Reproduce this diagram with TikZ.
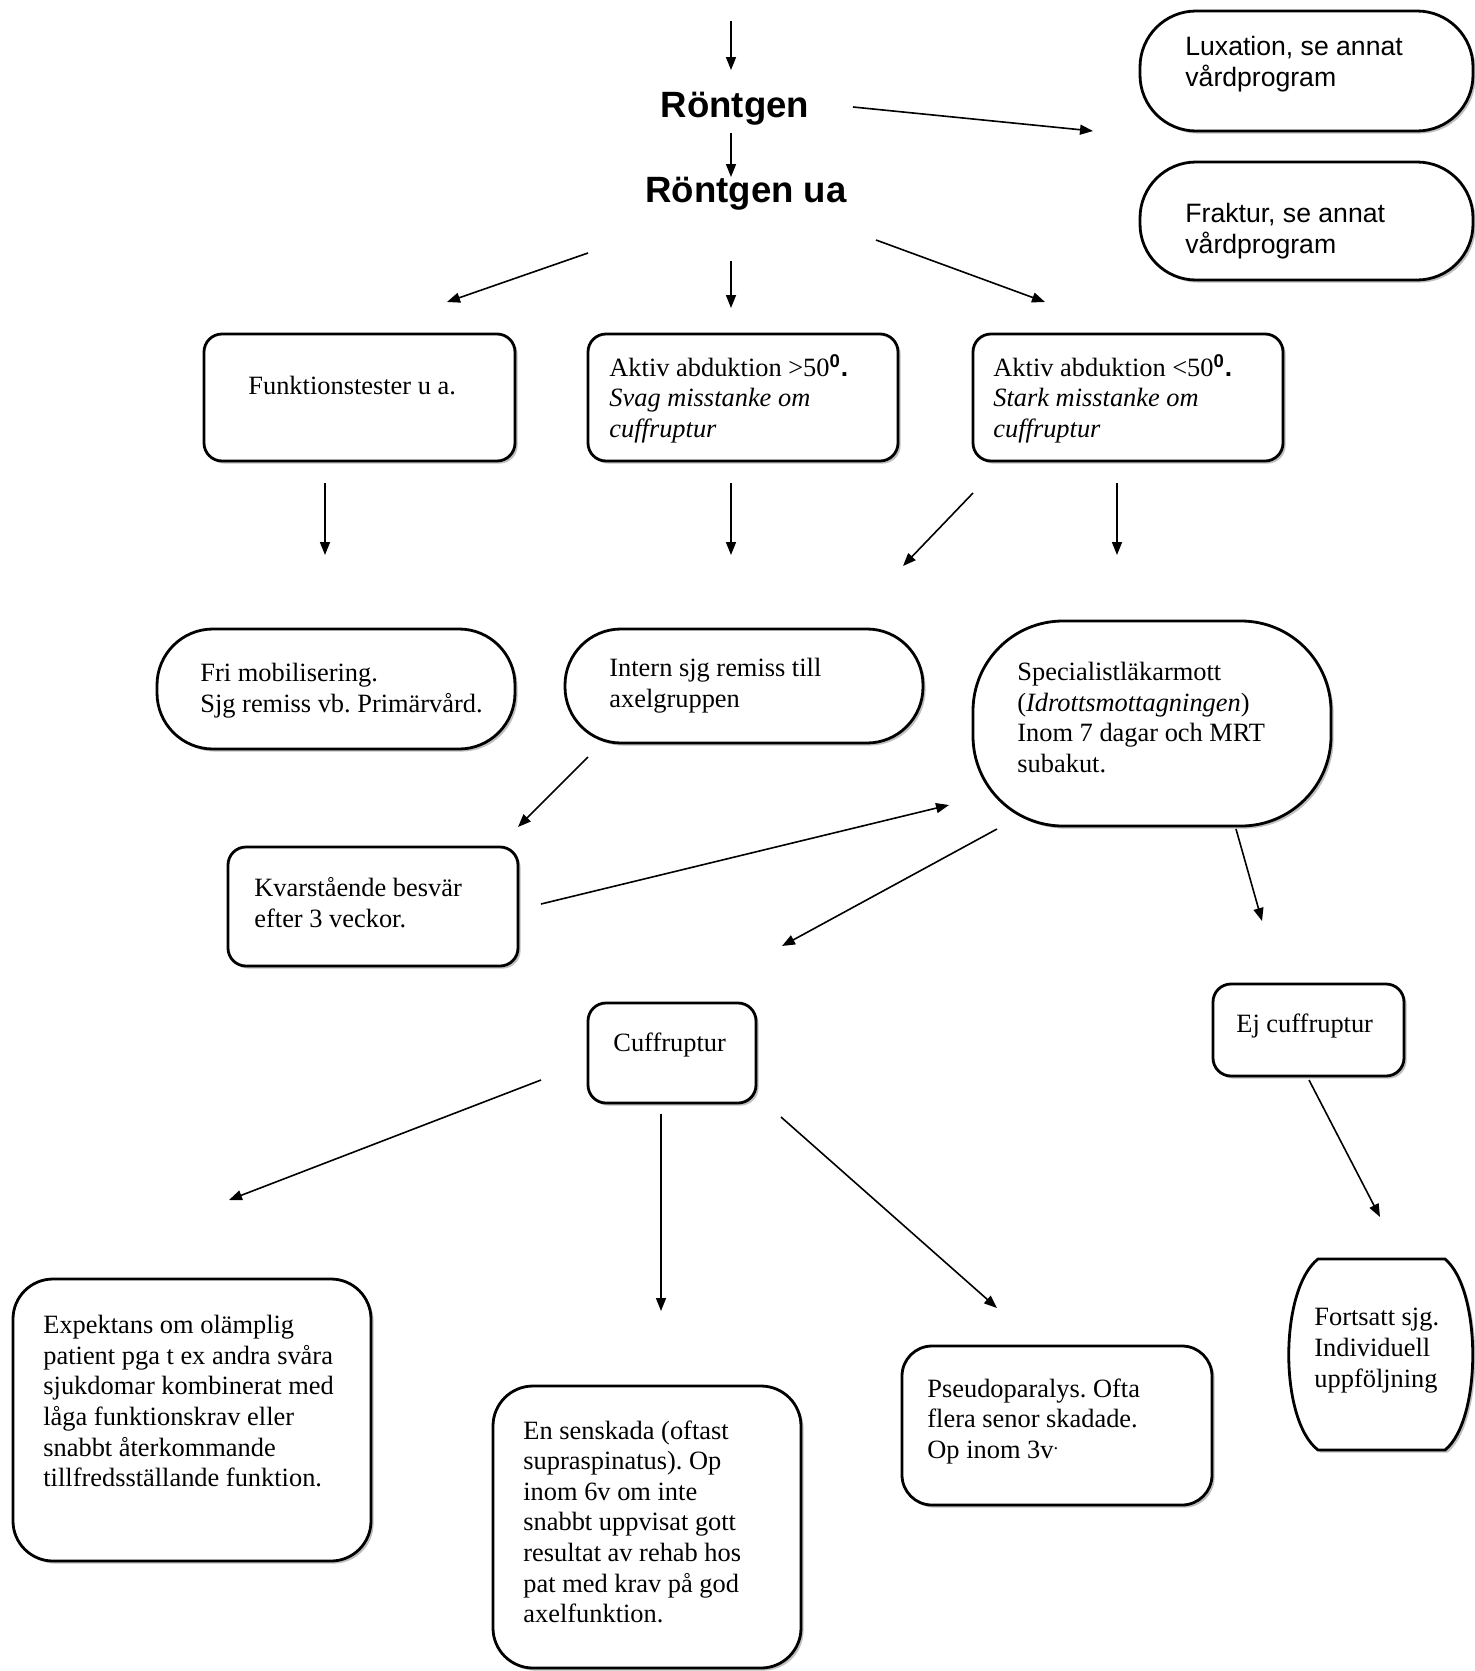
\documentclass[tikz,border=0pt]{standalone}
\usepackage{fontspec}
\setmainfont{Liberation Serif}
\setsansfont{Liberation Sans}
\usetikzlibrary{arrows.meta,fit,shadows}
\begin{document}
\frenchspacing
\begin{tikzpicture}[x=0.5pt,y=-0.5pt,
  shad/.style={drop shadow={shadow xshift=1.3pt,shadow yshift=-1.3pt,fill=black!25,opacity=1}},
  box/.style={draw,line width=1.4pt,rounded corners=9pt,fill=white,inner sep=0pt,shad},
  stad/.style={box,rounded corners=28pt},
  bigrnd/.style={box,rounded corners=45pt},
  txt/.style={anchor=north west,inner sep=0pt,align=left,font=\fontsize{13.2}{15.3}\selectfont},
  stxt/.style={txt,font=\fontsize{13.3}{15.3}\selectfont\sffamily},
  head/.style={inner sep=0pt,font=\fontsize{18.3}{22}\selectfont\sffamily\bfseries},
  arr/.style={-{Triangle[length=6.5pt,width=5pt]},line width=0.8pt}
]
\useasboundingbox (0,0) rectangle (1475,1671);
\newcommand\degr{\textsuperscript{\sffamily\bfseries 0}{\sffamily\bfseries .}}

% headings
\node[head] (ront) at (735,109) {Röntgen};
\node[head] (rontua) at (746,194) {Röntgen ua};

% boxes
\node[stad,fit={(1140,11) (1473,131)}] (lux) {};
\node[stxt] (luxT) at (1185,36) {Luxation, se annat\\vårdprogram};
\node[stad,fit={(1140,162) (1473,280)}] (frak) {};
\node[stxt] (frakT) at (1185,203) {Fraktur, se annat\\vårdprogram};

\node[box,fit={(204,334) (515,461)}] (fun) {};
\node[txt] (funT) at (248,376) {Funktionstester u a.};
\node[box,fit={(588,334) (898,461)}] (svag) {};
\node[txt] (svagT) at (609,354) {Aktiv abduktion >50\degr\\\textit{Svag misstanke om}\\\textit{cuffruptur}};
\node[box,fit={(973,334) (1283,461)}] (stark) {};
\node[txt] (starkT) at (993,354) {Aktiv abduktion <50\degr\\\textit{Stark misstanke om}\\\textit{cuffruptur}};

\node[stad,fit={(157,629) (515,749)}] (fri) {};
\node[txt] (friT) at (200,663) {Fri mobilisering.\\Sjg remiss vb. Primärvård.};
\node[stad,fit={(565,629) (923,743)}] (intern) {};
\node[txt] (internT) at (609,658) {Intern sjg remiss till\\axelgruppen};
\node[bigrnd,fit={(973,621) (1331,826)}] (spec) {};
\node[txt] (specT) at (1017,662) {Specialistläkarmott\\(\textit{Idrottsmottagningen})\\Inom 7 dagar och MRT\\subakut.};

\node[box,fit={(228,847) (518,966)}] (kvar) {};
\node[txt] (kvarT) at (254,877) {Kvarstående besvär\\efter 3 veckor.};

\node[box,fit={(588,1003) (756,1103)}] (cuff) {};
\node[txt] (cuffT) at (613,1032) {Cuffruptur};
\node[box,fit={(1213,984) (1404,1076)}] (ej) {};
\node[txt] (ejT) at (1236,1013) {Ej cuffruptur};

\node[box,rounded corners=20pt,fit={(13,1279) (371,1561)}] (exp) {};
\node[txt] (expT) at (43,1315) {Expektans om olämplig\\patient pga t ex andra svåra\\sjukdomar kombinerat med\\låga funktionskrav eller\\snabbt återkommande\\tillfredsställande funktion.};
\node[box,rounded corners=20pt,fit={(493,1386) (801,1668)}] (sen) {};
\node[txt] (senT) at (523,1420) {En senskada (oftast\\supraspinatus). Op\\inom 6v om inte\\snabbt uppvisat gott\\resultat av rehab hos\\pat med krav på god\\axelfunktion.};
\node[box,rounded corners=15pt,fit={(902,1346) (1212,1505)}] (pseudo) {};
\node[txt] (pseudoT) at (927,1378) {Pseudoparalys. Ofta\\flera senor skadade.\\Op inom 3v\textsuperscript{.}};

\node[inner sep=0pt,fit={(1283,1259) (1474,1450)}] (fort) {};
\draw[line width=1.4pt,fill=white,shad]
  (1318,1259) -- (1445,1259)
  .. controls (1482,1290) and (1482,1420) .. (1445,1450)
  -- (1318,1450)
  .. controls (1279,1420) and (1279,1290) .. (1318,1259) -- cycle;
\node[txt] (fortT) at (1314,1308) {Fortsatt sjg.\\Individuell\\uppföljning};

% arrow coordinates
\coordinate (a1s) at (731,21);   \coordinate (a1e) at (731,70);
\coordinate (a2s) at (731,133);  \coordinate (a2e) at (731,177);
\coordinate (a3s) at (853,107);  \coordinate (a3e) at (1093,131);
\coordinate (a4s) at (588,253);  \coordinate (a4e) at (447,302);
\coordinate (a5s) at (731,261);  \coordinate (a5e) at (731,308);
\coordinate (a6s) at (876,240);  \coordinate (a6e) at (1045,302);
\coordinate (b1s) at (325,483);  \coordinate (b1e) at (325,555);
\coordinate (b2s) at (731,483);  \coordinate (b2e) at (731,555);
\coordinate (b3s) at (973,493);  \coordinate (b3e) at (903,566);
\coordinate (b4s) at (1117,483); \coordinate (b4e) at (1117,555);
\coordinate (c1s) at (588,757);  \coordinate (c1e) at (518,827);
\coordinate (c2s) at (541,904);  \coordinate (c2e) at (949,805);
\coordinate (c3s) at (997,829);  \coordinate (c3e) at (782,946);
\coordinate (c4s) at (1236,829); \coordinate (c4e) at (1262,921);
\coordinate (d1s) at (541,1080); \coordinate (d1e) at (229,1200);
\coordinate (d2s) at (661,1114); \coordinate (d2e) at (661,1311);
\coordinate (d3s) at (781,1117); \coordinate (d3e) at (997,1308);
\coordinate (d4s) at (1309,1080);\coordinate (d4e) at (1380,1217);

\foreach \a in {a1,a2,a3,a4,a5,a6,b1,b2,b3,b4,c1,c2,c3,c4,d1,d2,d3,d4}
  \draw[arr] (\a s) -- (\a e);
\end{tikzpicture}
\end{document}
